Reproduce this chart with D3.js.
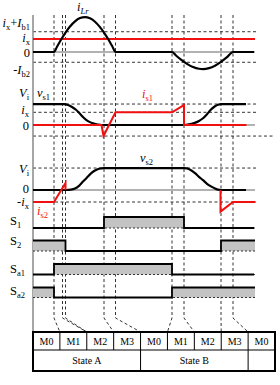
<!DOCTYPE html>
<html><head><meta charset="utf-8">
<script src="https://cdn.jsdelivr.net/npm/d3@7"></script>
<style>body{margin:0;background:#fff}svg{display:block}</style>
</head><body><svg id="c" width="280" height="385"></svg>
<script>
// ---------- data ----------
const switchTimes = [21, 29.5, 32.5, 71, 82.5, 139, 151, 188, 200];
const switchToModeEdge = [1, 2, 2, 3, 4, 5, 6, 7, 8];
const modeLabels = ["M0","M1","M2","M3","M0","M1","M2","M3","M0"];
const stateLabels = ["State A","State B",""];
const stateSpans = [4, 4, 1];

// panel 1 (units of i_x)
const iLr = [[0,0],[21,0],[24,0.41],[27,0.81],[30,1.19],[33,1.55],[37,1.96],[42,2.36],[47,2.61],[52,2.69],[57,2.59],[62,2.33],[67,1.91],[72,1.37],[76,0.88],[79.5,0.41],[82.5,0],
  [139,0],[143,-0.27],[148,-0.59],[154,-0.91],[160,-1.16],[166,-1.29],[170,-1.31],[176,-1.24],[182,-1.05],[188,-0.76],[194,-0.40],[200,0],[221,0]];
const ixLine = [[0,1],[222,1]];
const p1Levels = [1.56, -0.79];

// panel 2
const vs1 = [[0,1.65],[31,1.65],[35,1.58],[39,1.42],[43,1.2],[47,0.88],[51,0.55],[55,0.3],[60,0.13],[65,0.03],[69,0],
  [151,0],[156,0.05],[161,0.15],[166,0.32],[170,0.53],[174,0.85],[178,1.22],[182,1.48],[185,1.6],[188,1.65],[213,1.65]];
const is1 = [[0,0],[68.5,0],[70.5,-0.87],[82.5,1],[139,1],[151,1.57],[151,0],[213.5,0]];
const p2Levels = [1.65, 1, -0.87];

// panel 3
const vs2 = [[0,0],[33,0],[38,0.03],[42,0.12],[46,0.35],[50,0.7],[54,1.05],[58,1.38],[62,1.62],[66,1.77],[71,1.83],
  [151,1.83],[154,1.8],[158,1.65],[162,1.4],[166,1.1],[170,0.82],[174,0.52],[178,0.3],[182,0.13],[185,0.03],[188,0],[213,0]];
const is2a = [[0,-1],[21,-1],[32.5,0.58],[32.5,0]];
const is2b = [[187.5,0],[187.5,-1.8],[200,-1],[222,-1]];
const p3Levels = [1.83, -1];

// gate signals
const S1  = [[0,0],[71,1],[151,0],[221,0]];
const S2  = [[0,1],[32.5,0],[188,1],[222,1]];
const Sa1 = [[0,0],[21,1],[139,0],[221,0]];
const Sa2 = [[0,1],[21,0],[139,1],[222,1]];

// labels
const lab1 = [ [[["i","i"],["x","s"],["+","r"],["I","i"],["b1","s"]], 27],
               [[["i","i"],["x","s"]], 42],
               [[["0","r"]], 57],
               [[["-","r"],["I","i"],["b2","s"]], 74] ];
const lab2 = [ [[["V","i"],["i","s"]], 97], [[["i","i"],["x","s"]], 114], [[["0","r"]], 130] ];
const lab3 = [ [[["V","i"],["i","s"]], 173], [[["0","r"]], 193], [[["-","r"],["i","i"],["x","s"]], 206] ];
const labS = [ [[["S","r"],["1","s"]], 225], [[["S","r"],["2","s"]], 245],
               [[["S","r"],["a1","s"]], 273], [[["S","r"],["a2","s"]], 295] ];

// ---------- drawing ----------
const svg = d3.select("#c");
const FONT = "'Liberation Serif','Times New Roman',serif";
const RED = "#f01010";
const FS = 12.5, SFS = 8.5;
const x = d3.scaleLinear().domain([0, 222]).range([33, 255]);
const y1 = d3.scaleLinear().domain([0, 1]).range([52, 39]);
const y2 = d3.scaleLinear().domain([0, 1]).range([125, 112.3]);
const y3 = d3.scaleLinear().domain([0, 1]).range([190, 178]);

function rich(g, px, py, parts, anchor, color) {
  const t = g.append("text").attr("x", px).attr("y", py).attr("text-anchor", anchor)
    .attr("fill", color || "#000").style("font-family", FONT).attr("font-size", FS);
  let prevSub = false;
  parts.forEach(([s, st]) => {
    const sub = st.includes("s"), it = st.includes("i");
    const ts = t.append("tspan").text(s).attr("font-style", it ? "italic" : "normal")
      .attr("font-size", sub ? SFS : FS);
    if (sub && !prevSub) ts.attr("dy", 2.5);
    if (!sub && prevSub) ts.attr("dy", -2.5);
    prevSub = sub;
  });
  return t;
}

const table = {top: 332, mid: 350, bot: 371, left: 33, right: 275};
const cellW = (table.right - table.left) / modeLabels.length;

// horizontal dashed reference lines
const dash = (yy, xEnd) => svg.append("line").attr("x1", 33).attr("x2", xEnd).attr("y1", yy).attr("y2", yy)
  .attr("stroke", "#333").attr("stroke-width", 1).attr("stroke-dasharray", "3,2.5");
p1Levels.forEach(v => dash(y1(v), 257));
dash(y2(p2Levels[0]), 257); dash(y2(p2Levels[1]), 257); dash(y2(p2Levels[2]), 273);
p3Levels.forEach(v => dash(y3(v), 257));

// vertical dashed lines with bends into table
const bendY = 318;
switchTimes.forEach((t, i) => {
  const xe = table.left + switchToModeEdge[i] * cellW;
  svg.append("path").attr("d", `M${x(t)},15 L${x(t)},${bendY} L${xe},${table.top}`)
    .attr("fill", "none").attr("stroke", "#333").attr("stroke-width", 1).attr("stroke-dasharray", "3,2.5");
});

// zero lines
[y1(0), y2(0), y3(0)].forEach(yy => svg.append("line").attr("x1", 33).attr("x2", 255)
  .attr("y1", yy).attr("y2", yy).attr("stroke", "#999").attr("stroke-width", 1.5));

// left axis
svg.append("line").attr("x1", 33).attr("x2", 33).attr("y1", 15).attr("y2", table.top)
  .attr("stroke", "#888").attr("stroke-width", 1.5);

// curves
const smooth = ys => d3.line().x(d => x(d[0])).y(d => ys(d[1])).curve(d3.curveMonotoneX);
const lin = ys => d3.line().x(d => x(d[0])).y(d => ys(d[1]));
const drawPath = (data, gen, color, w) => svg.append("path").datum(data).attr("d", gen)
  .attr("fill", "none").attr("stroke", color).attr("stroke-width", w).attr("stroke-linejoin", "miter");

drawPath(ixLine, lin(y1), RED, 2);
drawPath(iLr, smooth(y1), "#000", 2.2);
drawPath(vs1, smooth(y2), "#000", 2.2);
drawPath(is1, lin(y2), RED, 2);
drawPath(vs2, smooth(y3), "#000", 2.2);
drawPath(is2a, lin(y3), RED, 2);
drawPath(is2b, lin(y3), RED, 2);

// gate signals
const gates = [[S1, 228, 217], [S2, 251, 240.5], [Sa1, 274.5, 264], [Sa2, 297.5, 287.5]];
gates.forEach(([data, lo, hi]) => {
  const ys = d3.scaleLinear().domain([0, 1]).range([lo, hi]);
  svg.append("path").datum(data)
    .attr("d", d3.area().x(d => x(d[0])).y0(lo).y1(d => ys(d[1])).curve(d3.curveStepAfter))
    .attr("fill", "#c3c3c3");
  svg.append("line").attr("x1", 33).attr("x2", 255).attr("y1", lo).attr("y2", lo)
    .attr("stroke", "#333").attr("stroke-width", 1).attr("stroke-dasharray", "2,2");
  svg.append("path").datum(data)
    .attr("d", d3.line().x(d => x(d[0])).y(d => ys(d[1])).curve(d3.curveStepAfter))
    .attr("fill", "none").attr("stroke", "#000").attr("stroke-width", 1.8);
});

// labels
lab1.forEach(([p, yy]) => rich(svg, 30, yy, p, "end"));
lab2.forEach(([p, yy]) => rich(svg, 29, yy, p, "end"));
lab3.forEach(([p, yy]) => rich(svg, 29, yy, p, "end"));
labS.forEach(([p, yy]) => rich(svg, 10, yy, p, "start"));
rich(svg, 77, 11, [["i","i"],["Lr","si"]], "start");
rich(svg, 37, 97, [["v","i"],["s1","s"]], "start");
rich(svg, 142, 98, [["i","i"],["s1","s"]], "start", RED);
rich(svg, 140, 162, [["v","i"],["s2","s"]], "start");
rich(svg, 37, 215, [["i","i"],["s2","s"]], "start", RED);

// mode table
const tg = svg.append("g");
modeLabels.forEach((m, i) => {
  const cx = table.left + i * cellW;
  if (i > 0) tg.append("line").attr("x1", cx).attr("x2", cx).attr("y1", table.top).attr("y2", table.mid)
    .attr("stroke", "#000").attr("stroke-width", 1);
  tg.append("text").attr("x", cx + cellW / 2).attr("y", table.top + 13).attr("text-anchor", "middle")
    .style("font-family", FONT).attr("font-size", 10).text(m);
});
let acc = 0;
stateLabels.forEach((s, i) => {
  const x0 = table.left + acc * cellW;
  acc += stateSpans[i];
  const x1 = table.left + acc * cellW;
  if (i > 0) tg.append("line").attr("x1", x0).attr("x2", x0).attr("y1", table.mid).attr("y2", table.bot)
    .attr("stroke", "#000").attr("stroke-width", 1);
  tg.append("text").attr("x", (x0 + x1) / 2).attr("y", table.mid + 14).attr("text-anchor", "middle")
    .style("font-family", FONT).attr("font-size", 10).text(s);
});
tg.append("line").attr("x1", table.left).attr("x2", table.right).attr("y1", table.mid).attr("y2", table.mid)
  .attr("stroke", "#000").attr("stroke-width", 1);
tg.append("rect").attr("x", table.left).attr("y", table.top).attr("width", table.right - table.left)
  .attr("height", table.bot - table.top).attr("fill", "none").attr("stroke", "#000").attr("stroke-width", 2);
</script></body></html>
